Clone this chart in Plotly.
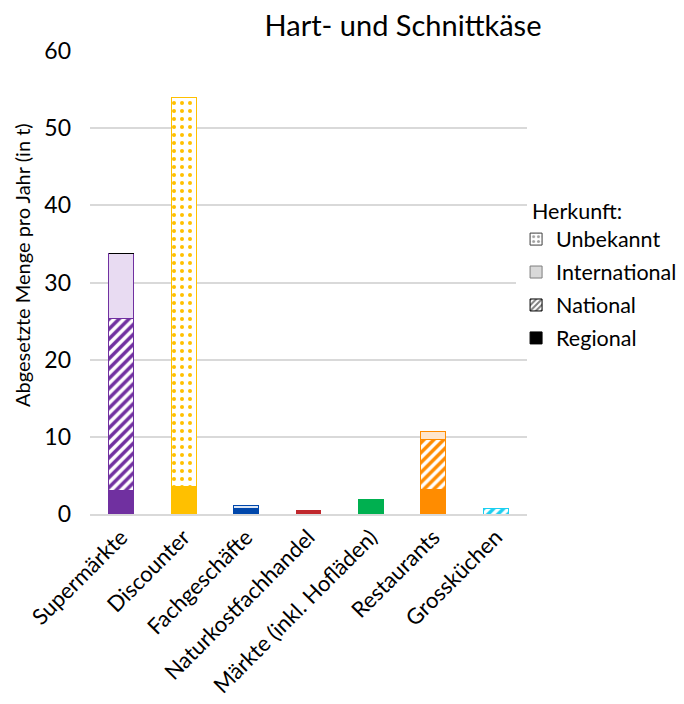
import plotly.graph_objects as go

categories = ["Supermärkte", "Discounter", "Fachgeschäfte", "Naturkostfachhandel",
              "Märkte (inkl. Hofläden)", "Restaurants", "Grossküchen"]
regional = [3.0, 3.5, 0.7, 0.3, 1.9, 3.2, 0.0]
national = [22.3, 0.0, 0.0, 0.0, 0.0, 6.4, 0.7]
international = [8.5, 0.0, 0.4, 0.2, 0.0, 1.1, 0.0]
unbekannt = [0.0, 50.5, 0.0, 0.0, 0.0, 0.0, 0.0]

base_colors = ["#7030A0", "#FFC000", "#0047AB", "#C0282D", "#00B050", "#FF8C00", "#1CCFF0"]
light_colors = ["#E8DBF2", "#FFF2CC", "#DCE6F5", "#F5D5D5", "#D5F0DE", "#FFE6CC", "#D5F5FC"]

FONT = "Lato, Calibri, sans-serif"

fig = go.Figure()

# real stacked bars (hidden from legend)
fig.add_trace(go.Bar(
    x=categories, y=regional, showlegend=False,
    marker=dict(color=base_colors, line=dict(color=base_colors, width=1)),
))
fig.add_trace(go.Bar(
    x=categories, y=national, showlegend=False,
    marker=dict(color="white", line=dict(color=base_colors, width=1),
                pattern=dict(shape="/", fgcolor=base_colors, bgcolor="white",
                             fillmode="overlay", size=7, solidity=0.5, fgopacity=1)),
))
fig.add_trace(go.Bar(
    x=categories, y=international, showlegend=False,
    marker=dict(color=light_colors, line=dict(color=base_colors, width=1)),
))
fig.add_trace(go.Bar(
    x=categories, y=unbekannt, showlegend=False,
    marker=dict(color="white", line=dict(color=base_colors, width=1),
                pattern=dict(shape=".", fgcolor=base_colors, bgcolor="white",
                             fillmode="overlay", size=8, solidity=0.2, fgopacity=1)),
))

# legend entries in neutral colours
legend_items = [
    ("Unbekannt", dict(color="white", line=dict(color="#404040", width=1),
                       pattern=dict(shape=".", fgcolor="#404040", bgcolor="white",
                                    fillmode="overlay", size=6, solidity=0.3))),
    ("International", dict(color="#D9D9D9", line=dict(color="#7F7F7F", width=1))),
    ("National", dict(color="white", line=dict(color="black", width=1),
                      pattern=dict(shape="/", fgcolor="black", bgcolor="white",
                                   fillmode="overlay", size=5, solidity=0.5))),
    ("Regional", dict(color="black", line=dict(color="black", width=1))),
]
for name, mk in legend_items:
    fig.add_trace(go.Bar(x=[categories[0]], y=[0], name=name, marker=mk,
                         legendgroup=name, hoverinfo="skip"))

# page body adds an 8px offset, so figure is 676x696 placed at (8, 8)
fig.update_layout(
    barmode="stack",
    bargap=0.6,
    width=676, height=696,
    paper_bgcolor="white", plot_bgcolor="white",
    font=dict(family=FONT, size=20, color="#000000"),
    margin=dict(l=82, r=157, t=43, b=190, autoexpand=False),
    title=dict(text="Hart- und Schnittkäse", x=395 / 676, xref="container", xanchor="center",
               y=1 - 18 / 696, yref="container", yanchor="middle",
               font=dict(family=FONT, size=29, color="black")),
    legend=dict(
        x=0.975, xanchor="left", y=0.638, yanchor="top",
        traceorder="grouped", tracegroupgap=2,
        font=dict(size=21.5), itemclick=False,
    ),
    annotations=[
        dict(text="Herkunft:", xref="paper", yref="paper", x=1.006, y=0.623,
             xanchor="left", yanchor="bottom", showarrow=False, font=dict(size=21.5)),
        dict(text="Abgesetzte Menge pro Jahr (in t)", xref="paper", yref="paper",
             x=-0.1556, y=0.538, xanchor="center", yanchor="middle", textangle=-90,
             showarrow=False, font=dict(size=20)),
    ],
    yaxis=dict(
        range=[0, 60], dtick=10, showgrid=True, gridcolor="#D9D9D9", gridwidth=1.5,
        zeroline=False, showline=False, ticks="", ticklabelstandoff=18,
        tickfont=dict(size=23),
    ),
    xaxis=dict(
        tickangle=-45, showline=True, linecolor="#D9D9D9", linewidth=1.5, ticks="",
        tickfont=dict(size=22),
    ),
)

fig.write_html("out.html")
